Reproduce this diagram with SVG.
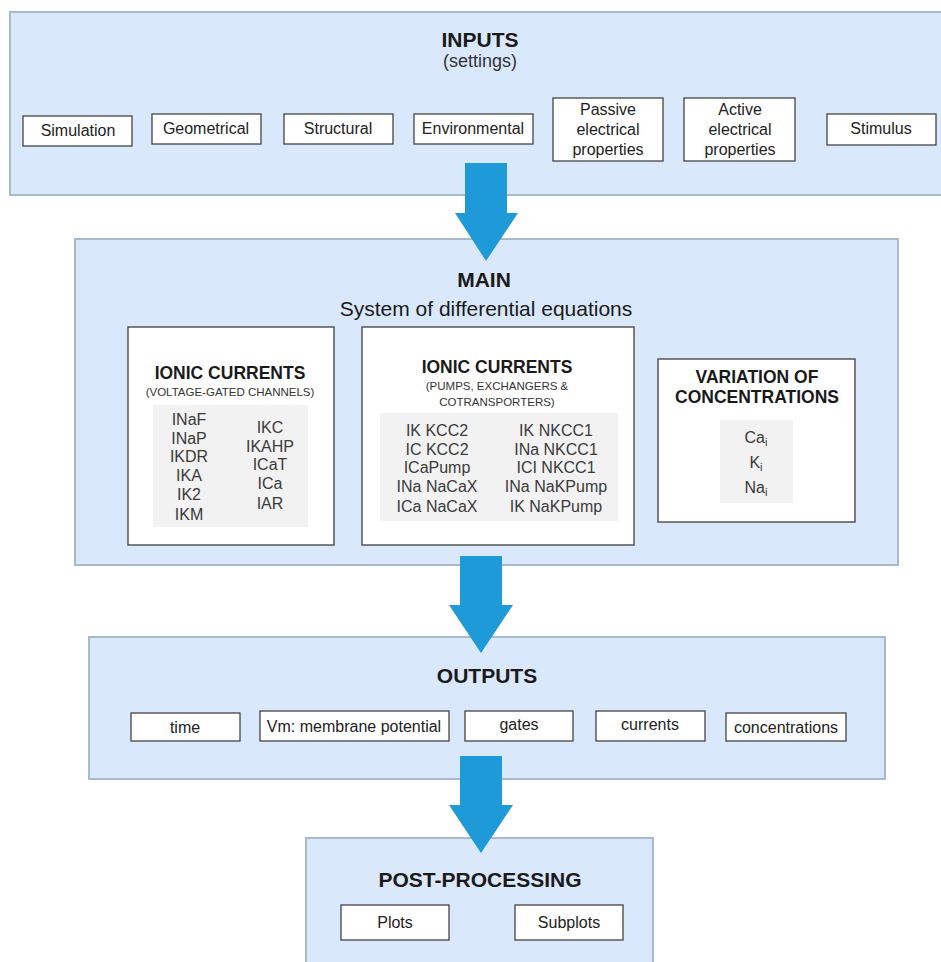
<svg xmlns="http://www.w3.org/2000/svg" width="941" height="962" viewBox="0 0 941 962">
<style>
text{font-family:"Liberation Sans",Arial,sans-serif;text-anchor:middle;fill:#1a1a1a}
.panel{fill:#dae8fc;stroke:#a9b8cb;stroke-width:2}
.box{fill:#fff;stroke:#444;stroke-width:1.3}
.inner{fill:#fff;stroke:#555;stroke-width:1.5}
.gray{fill:#f2f2f2}
.h{font-weight:bold;font-size:21px}
.sub{font-size:18px;fill:#333}
.lbl{font-size:16px;fill:#222}
.ht{font-weight:bold;font-size:17.5px}
.st{font-size:11.5px;fill:#333}
.it{font-size:16px;fill:#3a3a3a}
.arrow{fill:#1e9ad8}
</style>
<rect x="0" y="0" width="941" height="962" fill="#ffffff"/>
<g id="inputs">
<rect class="panel" x="10" y="12" width="945" height="183"/>
<text class="h" x="480" y="47">INPUTS</text>
<text class="sub" x="480" y="67">(settings)</text>
<g id="in-simulation"><rect class="box" x="23" y="116" width="109" height="30"/><text class="lbl" x="78" y="136">Simulation</text></g>
<g id="in-geometrical"><rect class="box" x="152" y="114" width="109" height="30"/><text class="lbl" x="206" y="134">Geometrical</text></g>
<g id="in-structural"><rect class="box" x="284" y="114" width="109" height="30"/><text class="lbl" x="338" y="134">Structural</text></g>
<g id="in-environmental"><rect class="box" x="414" y="114" width="119" height="30"/><text class="lbl" x="473" y="134">Environmental</text></g>
<g id="in-passive"><rect class="box" x="553" y="98" width="110" height="63"/><text class="lbl" x="608" y="115">Passive</text><text class="lbl" x="608" y="135">electrical</text><text class="lbl" x="608" y="155">properties</text></g>
<g id="in-active"><rect class="box" x="684" y="98" width="111" height="63"/><text class="lbl" x="740" y="115">Active</text><text class="lbl" x="740" y="135">electrical</text><text class="lbl" x="740" y="155">properties</text></g>
<g id="in-stimulus"><rect class="box" x="827" y="114" width="109" height="31"/><text class="lbl" x="881" y="134">Stimulus</text></g>
</g>
<g id="main">
<rect class="panel" x="75" y="239" width="823" height="326"/>
<text class="h" x="484" y="287">MAIN</text>
<text x="486" y="316" font-size="21" fill="#222">System of differential equations</text>
<g id="vgc">
<rect class="inner" x="128" y="327" width="206" height="218"/>
<text class="ht" x="230" y="379">IONIC CURRENTS</text>
<text class="st" x="230" y="396">(VOLTAGE-GATED CHANNELS)</text>
<rect class="gray" x="153" y="405" width="155" height="122"/>
<text class="it" x="189" y="425">INaF</text>
<text class="it" x="189" y="444">INaP</text>
<text class="it" x="189" y="462">IKDR</text>
<text class="it" x="189" y="481">IKA</text>
<text class="it" x="189" y="500">IK2</text>
<text class="it" x="189" y="520">IKM</text>
<text class="it" x="270" y="433">IKC</text>
<text class="it" x="270" y="452">IKAHP</text>
<text class="it" x="270" y="470">ICaT</text>
<text class="it" x="270" y="489">ICa</text>
<text class="it" x="270" y="509">IAR</text>
</g>
<g id="pumps">
<rect class="inner" x="362" y="327" width="272" height="218"/>
<text class="ht" x="497" y="373">IONIC CURRENTS</text>
<text class="st" x="497" y="390">(PUMPS, EXCHANGERS &amp;</text>
<text class="st" x="497" y="406">COTRANSPORTERS)</text>
<rect class="gray" x="380" y="413" width="238" height="108"/>
<text class="it" x="437" y="436">IK KCC2</text>
<text class="it" x="437" y="455">IC KCC2</text>
<text class="it" x="437" y="473">ICaPump</text>
<text class="it" x="437" y="492">INa NaCaX</text>
<text class="it" x="437" y="512">ICa NaCaX</text>
<text class="it" x="556" y="436">IK NKCC1</text>
<text class="it" x="556" y="455">INa NKCC1</text>
<text class="it" x="556" y="473">ICI NKCC1</text>
<text class="it" x="556" y="492">INa NaKPump</text>
<text class="it" x="556" y="512">IK NaKPump</text>
</g>
<g id="concentrations">
<rect class="inner" x="658" y="359" width="197" height="163"/>
<text class="ht" x="757" y="383">VARIATION OF</text>
<text class="ht" x="757" y="403">CONCENTRATIONS</text>
<rect class="gray" x="720" y="420" width="73" height="83"/>
<text class="it" x="756" y="443">Ca<tspan font-size="11" dy="3">i</tspan></text>
<text class="it" x="756" y="468">K<tspan font-size="11" dy="3">i</tspan></text>
<text class="it" x="756" y="493">Na<tspan font-size="11" dy="3">i</tspan></text>
</g>
</g>
<g id="outputs">
<rect class="panel" x="89" y="637" width="796" height="142"/>
<text class="h" x="487" y="683">OUTPUTS</text>
<g id="out-time"><rect class="box" x="131" y="713" width="109" height="28"/><text class="lbl" x="185" y="733">time</text></g>
<g id="out-vm"><rect class="box" x="260" y="711" width="189" height="30"/><text class="lbl" x="354" y="732">Vm: membrane potential</text></g>
<g id="out-gates"><rect class="box" x="465" y="711" width="108" height="30"/><text class="lbl" x="519" y="730">gates</text></g>
<g id="out-currents"><rect class="box" x="596" y="711" width="109" height="30"/><text class="lbl" x="650" y="730">currents</text></g>
<g id="out-concentrations"><rect class="box" x="726" y="713" width="120" height="28"/><text class="lbl" x="786" y="733">concentrations</text></g>
</g>
<g id="postprocessing">
<rect class="panel" x="306" y="838" width="347" height="140"/>
<text class="h" x="480" y="887">POST-PROCESSING</text>
<g id="pp-plots"><rect class="box" x="341" y="905" width="108" height="35"/><text class="lbl" x="395" y="928">Plots</text></g>
<g id="pp-subplots"><rect class="box" x="515" y="905" width="108" height="35"/><text class="lbl" x="569" y="928">Subplots</text></g>
</g>
<g id="connectors">
<polygon class="arrow" points="465,163 507,163 507,213 518,213 486,261 455,213 465,213"/>
<polygon class="arrow" points="460,556 502,556 502,605 513,605 481,653 449,605 460,605"/>
<polygon class="arrow" points="460,756 502,756 502,805 513,805 481,853 449,805 460,805"/>
</g>
</svg>
